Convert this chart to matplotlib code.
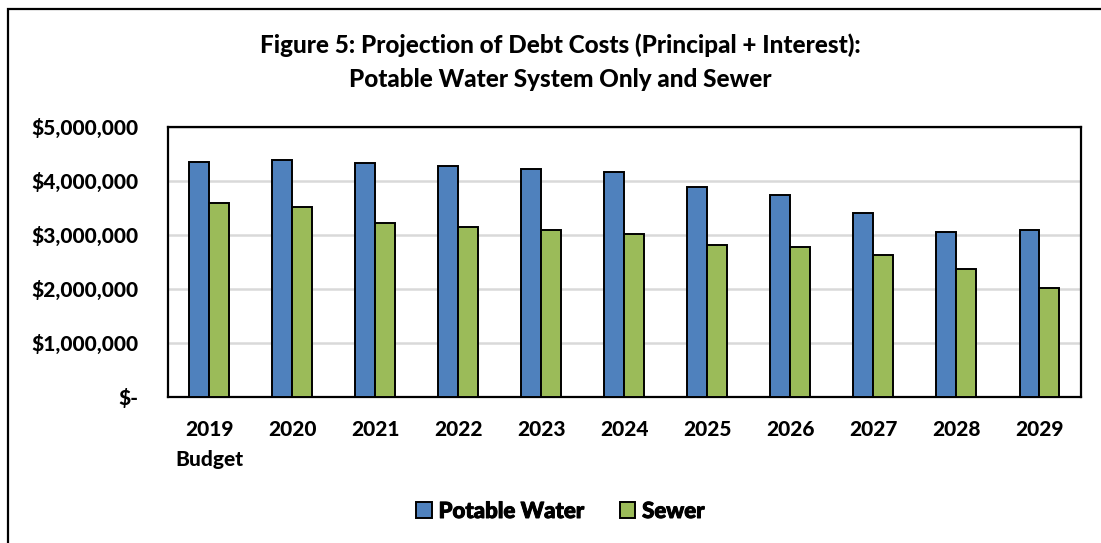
import matplotlib
matplotlib.use("Agg")
import matplotlib.pyplot as plt
import matplotlib.patheffects as pe
import numpy as np
from matplotlib.patches import Rectangle
from matplotlib.ticker import FuncFormatter
from matplotlib.font_manager import FontProperties

years = ["2019\nBudget", "2020", "2021", "2022", "2023", "2024",
         "2025", "2026", "2027", "2028", "2029"]
potable_water = [4340000, 4380000, 4320000, 4270000, 4220000, 4160000,
                 3890000, 3730000, 3410000, 3050000, 3090000]
sewer = [3590000, 3510000, 3210000, 3140000, 3090000, 3010000,
         2810000, 2770000, 2620000, 2360000, 2010000]

BLUE = "#4F81BD"
GREEN = "#9BBB59"
FONT = ["Lato", "DejaVu Sans"]
WEIGHT = 900

plt.rcParams["font.family"] = FONT
plt.rcParams["font.weight"] = WEIGHT

fig = plt.figure(figsize=(11.01, 5.43), dpi=100)
ax = fig.add_axes([0.1523, 0.2694, 0.8295, 0.4973])

x = np.arange(len(years))
w = 0.24
ax.bar(x - w / 2, potable_water, w, color=BLUE, edgecolor="black",
       linewidth=1.4, label="Potable Water", zorder=3)
ax.bar(x + w / 2, sewer, w, color=GREEN, edgecolor="black",
       linewidth=1.4, label="Sewer", zorder=3)

ax.set_xlim(-0.5, len(years) - 0.5)
ax.set_ylim(0, 5000000)
ax.set_yticks(np.arange(0, 5000001, 1000000))


def money(v, pos):
    if v == 0:
        return "$-"
    return "${:,.0f}".format(v)


ax.yaxis.set_major_formatter(FuncFormatter(money))
ax.set_xticks(x)
ax.set_xticklabels(years)
ax.tick_params(axis="both", length=0, labelsize=15)
ax.tick_params(axis="y", pad=21)
ax.tick_params(axis="x", pad=16.5)
for lbl in ax.get_xticklabels() + ax.get_yticklabels():
    lbl.set_fontweight(WEIGHT)
    lbl.set_linespacing(1.7)

ax.grid(axis="y", color="#d9d9d9", linewidth=1.8, zorder=0)
for s in ax.spines.values():
    s.set_color("black")
    s.set_linewidth(1.6)

fig.text(0.509, 0.917, "Figure 5: Projection of Debt Costs (Principal + Interest):",
         ha="center", va="center", fontsize=17.5, fontweight=WEIGHT)
fig.text(0.509, 0.853, "Potable Water System Only and Sewer",
         ha="center", va="center", fontsize=17.5, fontweight=WEIGHT)

leg_font = FontProperties(family="Lato", weight=WEIGHT, size=16)
leg = fig.legend(loc="center", bbox_to_anchor=(0.509, 0.058), ncol=2,
                 frameon=False, prop=leg_font,
                 handlelength=0.7, handleheight=0.7, handletextpad=0.3,
                 columnspacing=1.6)
for t in leg.get_texts():
    t.set_path_effects([pe.withStroke(linewidth=0.7, foreground="black")])

# outer frame of the figure
fig.patches.append(Rectangle((7.5 / 1101, -0.1), 1.2, 1.1 - 9 / 543,
                             transform=fig.transFigure, fill=False,
                             edgecolor="black", linewidth=1.6))

fig.savefig("out.png", dpi=100)
